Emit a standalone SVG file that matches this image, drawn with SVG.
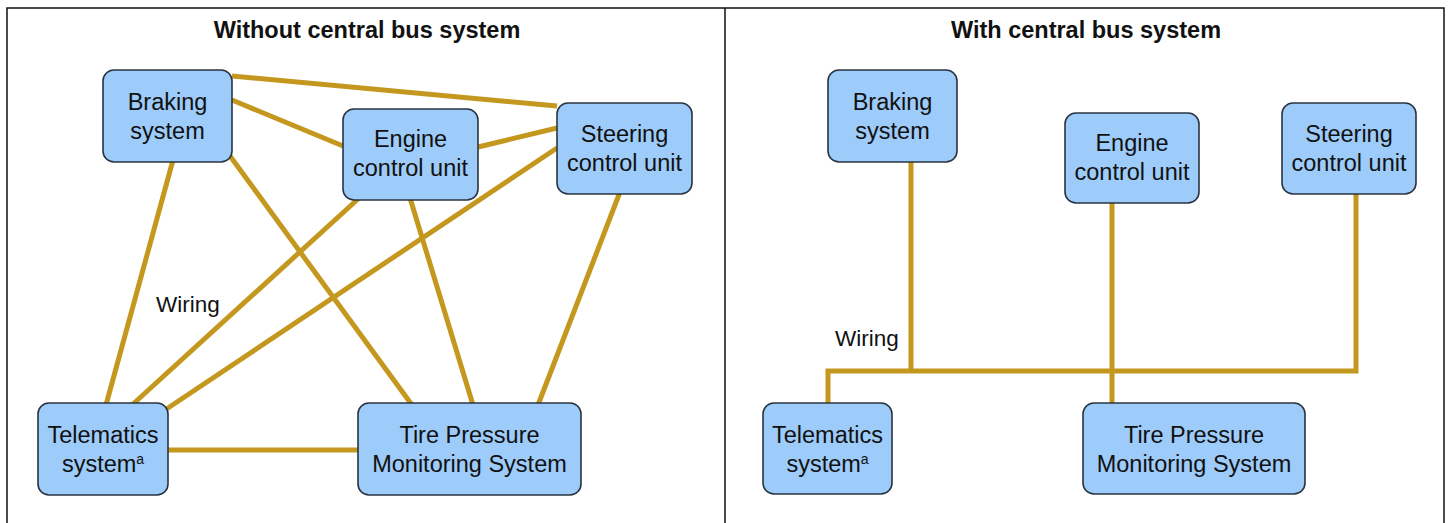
<svg xmlns="http://www.w3.org/2000/svg" width="1448" height="523" viewBox="0 0 1448 523">
<style>
.frame{fill:none;stroke:#111;stroke-width:1.5}
.title{font-family:"Liberation Sans",Arial,sans-serif;font-weight:bold;font-size:23.5px;fill:#111;text-anchor:middle}
.box{fill:#9dcbfa;stroke:#2a3440;stroke-width:1.6}
.lbl{font-family:"Liberation Sans",Arial,sans-serif;font-size:23.5px;fill:#111;text-anchor:middle}
.wlbl{font-family:"Liberation Sans",Arial,sans-serif;font-size:22.5px;fill:#111}
.wire{fill:none;stroke:#c4981f;stroke-width:5;stroke-linejoin:miter;stroke-linecap:butt}
.sup{font-size:14px}
</style>
<rect width="1448" height="523" fill="#fff"/>
<g id="frame">
<path class="frame" d="M7,523 V8 H1444 V523 M725,8 V523"/>
<text class="title" x="367" y="38">Without central bus system</text>
<text class="title" x="1086" y="38">With central bus system</text>
</g>
<g id="connectors">
<path class="wire" d="M232,76 L557,106"/>
<path class="wire" d="M232,100 L343,146"/>
<path class="wire" d="M478,147 L557,128"/>
<path class="wire" d="M173,160 L106,405"/>
<path class="wire" d="M230,156 L412,405"/>
<path class="wire" d="M358,199 L132,405"/>
<path class="wire" d="M557,148 L165,410"/>
<path class="wire" d="M410,198 L473,405"/>
<path class="wire" d="M620,192 L538,405"/>
<path class="wire" d="M166,450 L360,450"/>
<path class="wire" d="M828,405 V371 H1356 V192"/>
<path class="wire" d="M911,160 V371"/>
<path class="wire" d="M1112,201 V405"/>
</g>
<g id="wiring-label-left"><text class="wlbl" x="156" y="312">Wiring</text></g>
<g id="wiring-label-right"><text class="wlbl" x="835" y="346">Wiring</text></g>
<g id="left-braking">
<rect class="box" x="103" y="70" width="129" height="92" rx="11"/>
<text class="lbl" x="167.5" y="110">Braking</text>
<text class="lbl" x="167.5" y="139">system</text>
</g>
<g id="left-engine">
<rect class="box" x="343" y="109" width="135" height="91" rx="11"/>
<text class="lbl" x="410.5" y="147">Engine</text>
<text class="lbl" x="410.5" y="176">control unit</text>
</g>
<g id="left-steering">
<rect class="box" x="557" y="103" width="135" height="91" rx="11"/>
<text class="lbl" x="624.5" y="142">Steering</text>
<text class="lbl" x="624.5" y="171">control unit</text>
</g>
<g id="left-telematics">
<rect class="box" x="38" y="403" width="130" height="92" rx="11"/>
<text class="lbl" x="103" y="443">Telematics</text>
<text class="lbl" x="103" y="472">system<tspan class="sup" dy="-8">a</tspan></text>
</g>
<g id="left-tpms">
<rect class="box" x="358" y="403" width="223" height="92" rx="11"/>
<text class="lbl" x="469.5" y="443">Tire Pressure</text>
<text class="lbl" x="469.5" y="472">Monitoring System</text>
</g>
<g id="right-braking">
<rect class="box" x="828" y="70" width="129" height="92" rx="11"/>
<text class="lbl" x="892.5" y="110">Braking</text>
<text class="lbl" x="892.5" y="139">system</text>
</g>
<g id="right-engine">
<rect class="box" x="1065" y="113" width="134" height="90" rx="11"/>
<text class="lbl" x="1132" y="151">Engine</text>
<text class="lbl" x="1132" y="180">control unit</text>
</g>
<g id="right-steering">
<rect class="box" x="1282" y="103" width="134" height="91" rx="11"/>
<text class="lbl" x="1349" y="142">Steering</text>
<text class="lbl" x="1349" y="171">control unit</text>
</g>
<g id="right-telematics">
<rect class="box" x="763" y="403" width="129" height="91" rx="11"/>
<text class="lbl" x="827.5" y="443">Telematics</text>
<text class="lbl" x="827.5" y="472">system<tspan class="sup" dy="-8">a</tspan></text>
</g>
<g id="right-tpms">
<rect class="box" x="1083" y="403" width="222" height="91" rx="11"/>
<text class="lbl" x="1194" y="443">Tire Pressure</text>
<text class="lbl" x="1194" y="472">Monitoring System</text>
</g>
</svg>
